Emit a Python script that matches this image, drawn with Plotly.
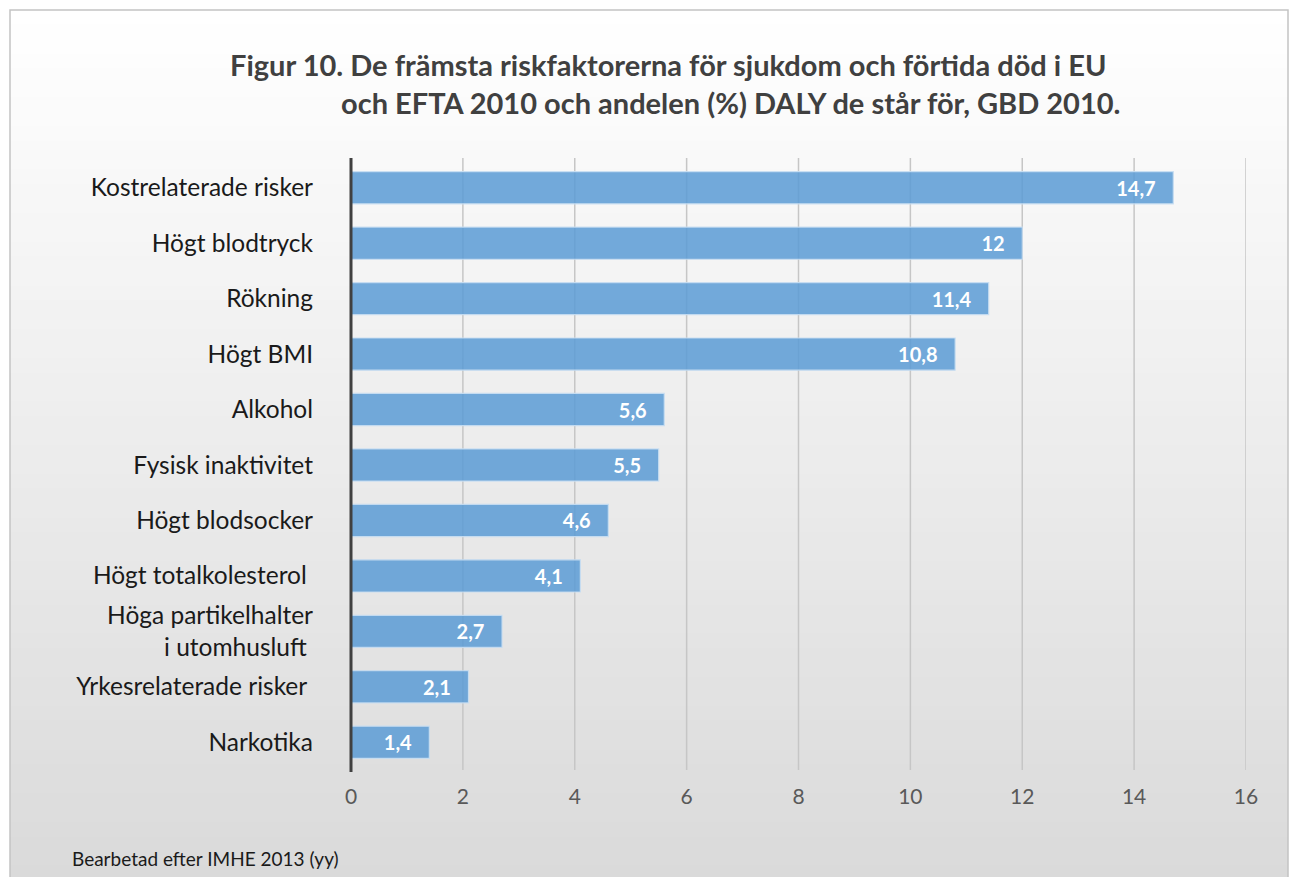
import plotly.graph_objects as go

categories = ["Kostrelaterade risker", "Högt blodtryck", "Rökning", "Högt BMI", "Alkohol",
              "Fysisk inaktivitet", "Högt blodsocker", "Högt totalkolesterol\u00a0",
              "Höga partikelhalter<br>i utomhusluft\u00a0", "Yrkesrelaterade risker\u00a0", "Narkotika"]
values = [14.7, 12, 11.4, 10.8, 5.6, 5.5, 4.6, 4.1, 2.7, 2.1, 1.4]
value_labels = ["14,7", "12", "11,4", "10,8", "5,6", "5,5", "4,6", "4,1", "2,7", "2,1", "1,4"]
x_ticks = [0, 2, 4, 6, 8, 10, 12, 14, 16]

W, H = 1295, 877
L, R, T, B = 351, 49, 160, 107
pw, ph = W - L - R, H - T - B

def px_x(px):
    return (px - L) / pw

def px_y(py):
    return (H - B - py) / ph

fig = go.Figure()
fig.add_trace(go.Bar(
    y=categories, x=values, orientation="h",
    marker=dict(color="rgba(91,155,213,0.85)", line=dict(color="rgba(200,222,242,0.9)", width=1.2)),
    text=[v + "\u00a0\u00a0\u00a0" for v in value_labels],
    textposition="inside", insidetextanchor="end",
    textfont=dict(family="Lato", size=20, color="white", weight="bold"),
    cliponaxis=False,
    hoverinfo="skip",
))

shapes = []
# gradient background bands
n = 60
top, bot = 10, 880
for i in range(n):
    y0 = top + (bot - top) * i / n
    y1 = top + (bot - top) * (i + 1) / n + 2
    t = i / (n - 1)
    c = int(round(255 - t * (255 - 218)))
    shapes.append(dict(type="rect", xref="paper", yref="paper",
                       x0=px_x(10), x1=px_x(1288), y0=px_y(min(y1, bot)), y1=px_y(y0),
                       fillcolor=f"rgb({c},{c},{c})", line=dict(width=0), layer="below"))
# border
shapes.append(dict(type="rect", xref="paper", yref="paper",
                   x0=px_x(10), x1=px_x(1288), y0=px_y(880), y1=px_y(10),
                   fillcolor="rgba(0,0,0,0)", line=dict(color="#c4c4c4", width=1.5), layer="below"))
# gridlines
for v in x_ticks[1:]:
    shapes.append(dict(type="line", xref="x", yref="paper", x0=v, x1=v, y0=px_y(770), y1=px_y(158),
                       line=dict(color="#c6c6c6", width=1.5), layer="below"))
# y axis line (dark, at x=0)
shapes.append(dict(type="line", xref="paper", yref="paper", x0=0, x1=0, y0=px_y(772), y1=px_y(158),
                   line=dict(color="#404040", width=3), layer="above"))

fig.update_layout(
    width=W, height=H,
    margin=dict(l=L, r=R, t=T, b=B),
    paper_bgcolor="white", plot_bgcolor="rgba(0,0,0,0)",
    showlegend=False,
    bargap=0.42,
    shapes=shapes,
    font=dict(family="Lato"),
    xaxis=dict(range=[0, 16], tickvals=x_ticks, ticktext=[str(v) for v in x_ticks],
               showgrid=False, zeroline=False, showline=False, ticks="",
               tickfont=dict(family="Lato", size=21, color="#595959"), ticklabelstandoff=12),
    yaxis=dict(autorange="reversed", showgrid=False, zeroline=False,
               showline=False, ticks="",
               tickfont=dict(family="Lato", size=24.5, color="#1a1a1a"), ticklabelstandoff=37),
    annotations=[
        dict(text="<b>Figur 10. De främsta riskfaktorerna för sjukdom och förtida död i EU</b>",
             xref="paper", yref="paper", x=px_x(668), y=px_y(65), showarrow=False,
             xanchor="center", yanchor="middle", font=dict(family="Lato", size=29, color="#404040")),
        dict(text="<b>och EFTA 2010 och andelen (%) DALY de står för, GBD 2010.</b>",
             xref="paper", yref="paper", x=px_x(1122), y=px_y(102), showarrow=False,
             xanchor="right", yanchor="middle", font=dict(family="Lato", size=29, color="#404040")),
        dict(text="Bearbetad efter IMHE 2013 (yy)",
             xref="paper", yref="paper", x=px_x(70), y=px_y(858), showarrow=False,
             xanchor="left", yanchor="middle", font=dict(family="Lato", size=19, color="#1a1a1a")),
    ],
)

fig.write_html("out.html", config={"displayModeBar": False},
               post_script="document.body.style.margin='0';")
